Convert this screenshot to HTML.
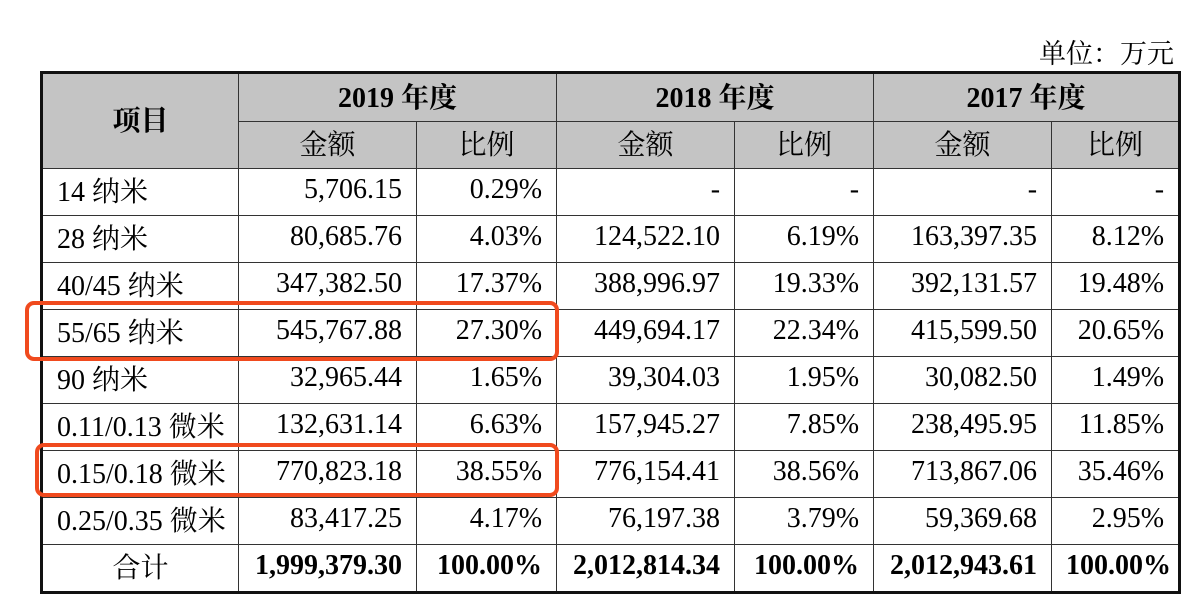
<!DOCTYPE html>
<html><head><meta charset="utf-8"><style>
body{margin:0;width:1204px;height:614px;background:#fff;position:relative;overflow:hidden;font-family:"Liberation Serif","Noto Serif CJK SC",serif;}
#unit{position:absolute;right:30px;top:32px;font-size:27px;}
table{position:absolute;left:40px;top:71px;width:1138px;border-collapse:collapse;border:3px solid #111;table-layout:fixed;}
td{border:1.5px solid #333;font-size:28px;padding:0 14px 4px 14px;height:42px;white-space:nowrap;overflow:hidden;}
.h td{background:#c4c4c4;text-align:center;font-weight:bold;}
.h2 td{font-weight:normal;}
.r{text-align:right}
.tot td{font-weight:bold;}
.box{position:absolute;border:4px solid #f04a1e;border-radius:9px;}
</style></head><body>
<div id="unit">单位：万元</div>
<table>
<colgroup><col style="width:197px"><col style="width:178px"><col style="width:140px"><col style="width:178px"><col style="width:139px"><col style="width:178px"><col style="width:128px"></colgroup>
<tr class="h"><td rowspan="2" style="height:89px">项目</td><td colspan="2" style="height:43px">2019 年度</td><td colspan="2">2018 年度</td><td colspan="2">2017 年度</td></tr>
<tr class="h h2"><td style="height:41px">金额</td><td>比例</td><td>金额</td><td>比例</td><td>金额</td><td>比例</td></tr>
<tr><td>14 纳米</td><td class="r">5,706.15</td><td class="r">0.29%</td><td class="r">-</td><td class="r">-</td><td class="r">-</td><td class="r">-</td></tr>
<tr><td>28 纳米</td><td class="r">80,685.76</td><td class="r">4.03%</td><td class="r">124,522.10</td><td class="r">6.19%</td><td class="r">163,397.35</td><td class="r">8.12%</td></tr>
<tr><td>40/45 纳米</td><td class="r">347,382.50</td><td class="r">17.37%</td><td class="r">388,996.97</td><td class="r">19.33%</td><td class="r">392,131.57</td><td class="r">19.48%</td></tr>
<tr><td>55/65 纳米</td><td class="r">545,767.88</td><td class="r">27.30%</td><td class="r">449,694.17</td><td class="r">22.34%</td><td class="r">415,599.50</td><td class="r">20.65%</td></tr>
<tr><td>90 纳米</td><td class="r">32,965.44</td><td class="r">1.65%</td><td class="r">39,304.03</td><td class="r">1.95%</td><td class="r">30,082.50</td><td class="r">1.49%</td></tr>
<tr><td>0.11/0.13 微米</td><td class="r">132,631.14</td><td class="r">6.63%</td><td class="r">157,945.27</td><td class="r">7.85%</td><td class="r">238,495.95</td><td class="r">11.85%</td></tr>
<tr><td>0.15/0.18 微米</td><td class="r">770,823.18</td><td class="r">38.55%</td><td class="r">776,154.41</td><td class="r">38.56%</td><td class="r">713,867.06</td><td class="r">35.46%</td></tr>
<tr><td>0.25/0.35 微米</td><td class="r">83,417.25</td><td class="r">4.17%</td><td class="r">76,197.38</td><td class="r">3.79%</td><td class="r">59,369.68</td><td class="r">2.95%</td></tr>
<tr class="tot"><td style="text-align:center;font-weight:normal">合计</td><td class="r">1,999,379.30</td><td class="r">100.00%</td><td class="r">2,012,814.34</td><td class="r">100.00%</td><td class="r">2,012,943.61</td><td class="r">100.00%</td></tr>
</table>
<div class="box" style="left:25px;top:301px;width:526px;height:52px"></div>
<div class="box" style="left:35px;top:443px;width:516px;height:46px"></div>
</body></html>
